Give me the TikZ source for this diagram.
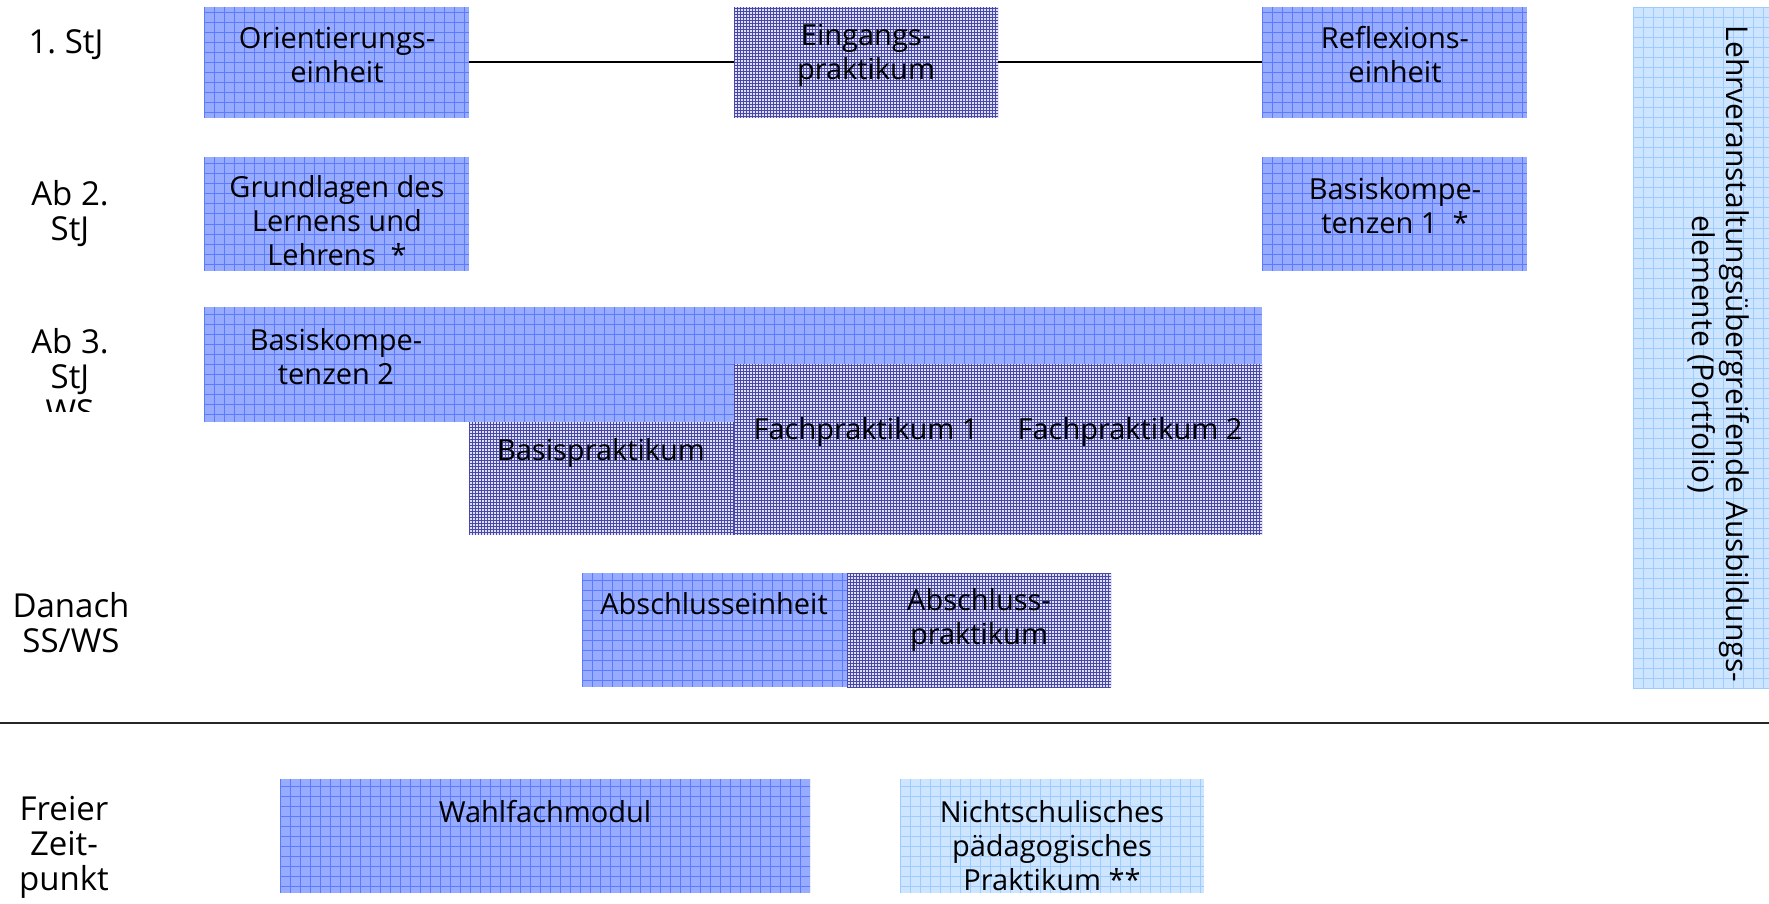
\documentclass[tikz,border=0pt]{standalone}
\usepackage{fontspec}
\setmainfont{Open Sans}
\usetikzlibrary{fit}

\definecolor{modulblau}{RGB}{152,172,255}
\definecolor{modullinie}{RGB}{92,122,255}
\definecolor{praxisgrund}{RGB}{222,222,244}
\definecolor{praxislinie}{RGB}{72,72,168}
\definecolor{hellblau}{RGB}{206,229,255}
\definecolor{hellblaulinie}{RGB}{158,204,255}

\tikzset{
  raster/.style n args={4}{fill=#1, path picture={\draw[#2, line width=#3] (path picture bounding box.south west) grid[step=#4] (path picture bounding box.north east);}},
  kasten/.style={inner sep=0pt, outer sep=0pt},
  modul/.style={kasten, raster={modulblau}{modullinie}{1pt}{10pt}},
  praxis/.style={kasten, raster={praxisgrund}{praxislinie}{1pt}{3pt}},
  portfolio/.style={kasten, raster={hellblau}{hellblaulinie}{1pt}{10pt}},
  txt/.style={align=center, inner sep=0pt, font=\fontsize{29}{34}\selectfont},
  zeile/.style={align=center, inner sep=0pt, font=\fontsize{33}{35}\selectfont},
  verbinder/.style={line width=2pt, black},
}

\begin{document}
\begin{tikzpicture}[x=1pt, y=-1pt]
    \useasboundingbox (0,0) rectangle (1769,904);
    % Zeilenbeschriftung
    \node[zeile] (stj1) at (66,45) {1.~StJ};
    \node[zeile] (stj2) at (70,214) {Ab 2.\\StJ};
    \begin{scope}
      \clip (0,290) rectangle (200,411);
      \node[zeile] (stj3) at (70,376) {Ab 3.\\StJ\\WS};
    \end{scope}
    \node[zeile] (danach) at (71,623) {Danach\\SS/WS};
    \node[zeile] (frei) at (64,847) {Freier\\Zeit-\\punkt};
    % 1. StJ
    \node[modul, fit={(204,7) (469,118)}] (orient) {};
    \node[praxis, fit={(734,7) (998,118)}] (eingang) {};
    \node[modul, fit={(1262,7) (1527,118)}] (reflex) {};
    \draw[verbinder] (orient) -- (eingang);
    \draw[verbinder] (eingang) -- (reflex);
    \node[txt] (orienttext) at (337,55) {Orientierungs-\\einheit};
    \node[txt] (eingangtext) at (866,55) {Eingangs-\\praktikum};
    \node[txt] (reflextext) at (1395,55) {Reflexions-\\einheit};
    % ab 2. StJ
    \node[modul, fit={(204,157) (469,271)}] (grundlagen) {};
    \node[modul, fit={(1262,157) (1527,271)}] (basis1) {};
    \node[txt] (grundlagentext) at (337,221) {Grundlagen des\\Lernens und\\Lehrens~~*};
    \node[txt] (basis1text) at (1395,206) {Basiskompe-\\tenzen 1~~*};
    % ab 3. StJ
    \node[modul, fit={(204,307) (1262,422)}] (basis2) {};
    \node[praxis, fit={(469,422) (734,535)}] (basisprak) {};
    \node[praxis, fit={(734,364) (998,535)}] (fach1) {};
    \node[praxis, fit={(998,364) (1262,535)}] (fach2) {};
    \node[txt] (basis2text) at (336,357) {Basiskompe-\\tenzen 2};
    \node[txt] (basispraktext) at (601,453) {Basispraktikum};
    \node[txt] (fach1text) at (866,432) {Fachpraktikum 1};
    \node[txt] (fach2text) at (1130,432) {Fachpraktikum 2};
    % danach
    \node[modul, fit={(582,573) (847,687)}] (abschlusseinh) {};
    \node[praxis, fit={(847,573) (1111,687)}] (abschlussprak) {};
    \node[txt] (abschlusseinhtext) at (714,604) {Abschlusseinheit};
    \node[txt] (abschlussprakttext) at (979,620) {Abschluss-\\praktikum};
    % Portfolio
    \node[portfolio, fit={(1633,7) (1769,689)}] (portfolio) {};
    \node[txt, font=\fontsize{30}{34}\selectfont, rotate=-90] (portfoliotext) at (1719,354) {Lehrveranstaltungsübergreifende Ausbildungs-\\elemente (Portfolio)};
    % Trennlinie
    \coordinate (trennL) at (0,723);
    \coordinate (trennR) at (1769,723);
    \draw[line width=2.5pt, black!85] (trennL) -- (trennR);
    % freier Zeitpunkt
    \node[modul, fit={(280,779) (810,893)}] (wahlfach) {};
    \node[portfolio, fit={(900,779) (1204,893)}] (nichtschul) {};
    \node[txt] (wahlfachtext) at (545,812) {Wahlfachmodul};
    \node[txt] (nichtschultext) at (1052,846) {Nichtschulisches\\pädagogisches\\Praktikum **};
\end{tikzpicture}
\end{document}
